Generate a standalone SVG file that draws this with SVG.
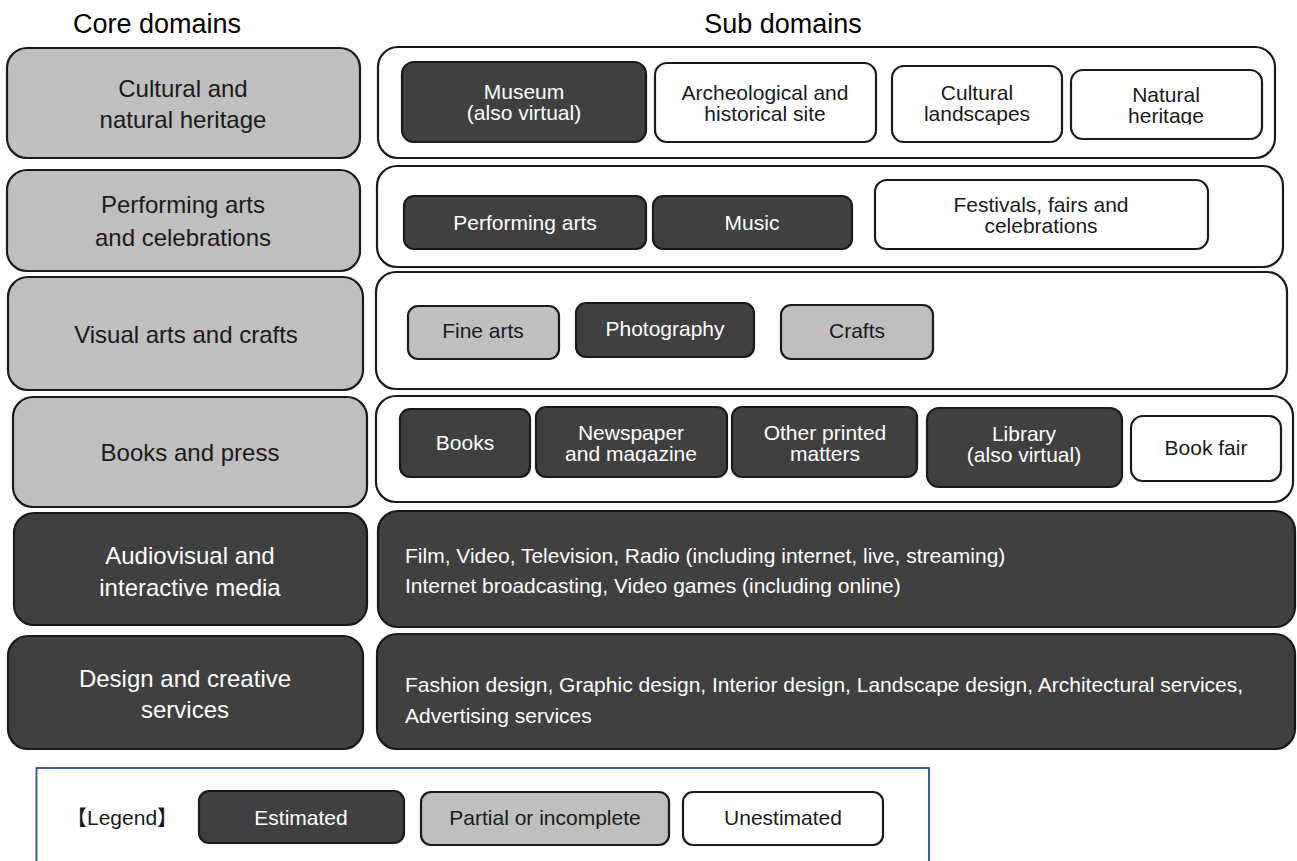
<svg xmlns="http://www.w3.org/2000/svg" width="1297" height="861" viewBox="0 0 1297 861">
<defs>
<style>
text{font-family:"Liberation Sans",Arial,"Noto Sans CJK JP",sans-serif;fill:#1a1a1a;}
.hdr{font-size:27px;text-anchor:middle;fill:#000;}
.core{font-size:24px;text-anchor:middle;}
.sub{font-size:21px;text-anchor:middle;}
.lst{font-size:21px;fill:#fff;}
.w{fill:#fff;}
.box{stroke:#1a1a1a;stroke-width:2.2;}
.dark{fill:#404040;}
.gray{fill:#bfbfbf;}
.white{fill:#fff;}
</style>
<clipPath id="clipNat"><rect x="1071" y="60" width="191" height="64.5"/></clipPath>
<clipPath id="clipMag"><rect x="536" y="400" width="191" height="62.5"/></clipPath>
</defs>
<rect width="1297" height="861" fill="#fff"/>

<g id="headers">
<text class="hdr" x="157" y="33">Core domains</text>
<text class="hdr" x="783" y="33">Sub domains</text>
</g>

<g id="core-heritage">
<rect class="box gray" x="7" y="48" width="353" height="110" rx="20"/>
<text class="core" x="183" y="97">Cultural and</text>
<text class="core" x="183" y="128">natural heritage</text>
</g>
<g id="core-performing">
<rect class="box gray" x="7" y="170" width="353" height="101" rx="20"/>
<text class="core" x="183" y="213">Performing arts</text>
<text class="core" x="183" y="246">and celebrations</text>
</g>
<g id="core-visual">
<rect class="box gray" x="8" y="277" width="355" height="113" rx="20"/>
<text class="core" x="186" y="343">Visual arts and crafts</text>
</g>
<g id="core-books">
<rect class="box gray" x="13" y="397" width="354" height="110" rx="20"/>
<text class="core" x="190" y="461">Books and press</text>
</g>
<g id="core-audiovisual">
<rect class="box dark" x="14" y="513" width="353" height="112" rx="20"/>
<text class="core w" x="190" y="564">Audiovisual and</text>
<text class="core w" x="190" y="596">interactive media</text>
</g>
<g id="core-design">
<rect class="box dark" x="8" y="636" width="355" height="113" rx="20"/>
<text class="core w" x="185" y="687">Design and creative</text>
<text class="core w" x="185" y="718">services</text>
</g>

<g id="sub-heritage">
<rect class="box white" x="378" y="47" width="897" height="111" rx="20"/>
<g id="sub-museum">
<rect class="box dark" x="402" y="62" width="244" height="80" rx="12"/>
<text class="sub w" x="524" y="99">Museum</text>
<text class="sub w" x="524" y="120">(also virtual)</text>
</g>
<g id="sub-archeological">
<rect class="box white" x="655" y="63" width="221" height="79" rx="12"/>
<text class="sub" x="765" y="100">Archeological and</text>
<text class="sub" x="765" y="121">historical site</text>
</g>
<g id="sub-landscapes">
<rect class="box white" x="892" y="66" width="170" height="76" rx="12"/>
<text class="sub" x="977" y="100">Cultural</text>
<text class="sub" x="977" y="121">landscapes</text>
</g>
<g id="sub-natural">
<rect class="box white" x="1071" y="70" width="191" height="69" rx="12"/>
<g clip-path="url(#clipNat)">
<text class="sub" x="1166" y="102">Natural</text>
<text class="sub" x="1166" y="123">heritage</text>
</g>
</g>
</g>

<g id="sub-performing">
<rect class="box white" x="377" y="166" width="906" height="101" rx="20"/>
<g id="sub-perfarts">
<rect class="box dark" x="404" y="196" width="242" height="53" rx="10"/>
<text class="sub w" x="525" y="230">Performing arts</text>
</g>
<g id="sub-music">
<rect class="box dark" x="653" y="196" width="199" height="53" rx="10"/>
<text class="sub w" x="752" y="230">Music</text>
</g>
<g id="sub-festivals">
<rect class="box white" x="875" y="180" width="333" height="69" rx="12"/>
<text class="sub" x="1041" y="212">Festivals, fairs and</text>
<text class="sub" x="1041" y="233">celebrations</text>
</g>
</g>

<g id="sub-visual">
<rect class="box white" x="376" y="272" width="911" height="117" rx="20"/>
<g id="sub-finearts">
<rect class="box gray" x="408" y="306" width="151" height="53" rx="10"/>
<text class="sub" x="483" y="338">Fine arts</text>
</g>
<g id="sub-photography">
<rect class="box dark" x="576" y="303" width="178" height="54" rx="10"/>
<text class="sub w" x="665" y="336">Photography</text>
</g>
<g id="sub-crafts">
<rect class="box gray" x="781" y="305" width="152" height="54" rx="10"/>
<text class="sub" x="857" y="338">Crafts</text>
</g>
</g>

<g id="sub-books">
<rect class="box white" x="376" y="396" width="917" height="106" rx="20"/>
<g id="sub-bookitem">
<rect class="box dark" x="400" y="409" width="130" height="68" rx="10"/>
<text class="sub w" x="465" y="450">Books</text>
</g>
<g id="sub-newspaper">
<rect class="box dark" x="536" y="407" width="191" height="70" rx="10"/>
<g clip-path="url(#clipMag)">
<text class="sub w" x="631" y="440">Newspaper</text>
<text class="sub w" x="631" y="461">and magazine</text>
</g>
</g>
<g id="sub-otherprinted">
<rect class="box dark" x="732" y="407" width="185" height="70" rx="10"/>
<text class="sub w" x="825" y="440">Other printed</text>
<text class="sub w" x="825" y="461">matters</text>
</g>
<g id="sub-library">
<rect class="box dark" x="927" y="408" width="195" height="79" rx="12"/>
<text class="sub w" x="1024" y="441">Library</text>
<text class="sub w" x="1024" y="462">(also virtual)</text>
</g>
<g id="sub-bookfair">
<rect class="box white" x="1131" y="416" width="150" height="65" rx="12"/>
<text class="sub" x="1206" y="455">Book fair</text>
</g>
</g>

<g id="sub-audiovisual">
<rect class="box dark" x="378" y="511" width="917" height="116" rx="20"/>
<text class="lst" x="405" y="563">Film, Video, Television, Radio (including internet, live, streaming)</text>
<text class="lst" x="405" y="593">Internet broadcasting, Video games (including online)</text>
</g>

<g id="sub-design">
<rect class="box dark" x="377" y="634" width="918" height="115" rx="20"/>
<text class="lst" x="405" y="692">Fashion design, Graphic design, Interior design, Landscape design, Architectural services,</text>
<text class="lst" x="405" y="723">Advertising services</text>
</g>

<g id="legend">
<path d="M36.5 870 V768 H929 V870" fill="none" stroke="#3d5f9c" stroke-width="2"/>
<text x="66" y="825" style="font-size:21px;fill:#1a1a1a">【Legend】</text>
<g id="legend-estimated">
<rect class="box dark" x="199" y="791" width="205" height="52" rx="10"/>
<text class="sub w" x="301" y="825">Estimated</text>
</g>
<g id="legend-partial">
<rect class="box gray" x="421" y="792" width="248" height="53" rx="10"/>
<text class="sub" x="545" y="825">Partial or incomplete</text>
</g>
<g id="legend-unestimated">
<rect class="box white" x="683" y="792" width="200" height="53" rx="10"/>
<text class="sub" x="783" y="825">Unestimated</text>
</g>
</g>

<g id="connectors"></g>
</svg>
